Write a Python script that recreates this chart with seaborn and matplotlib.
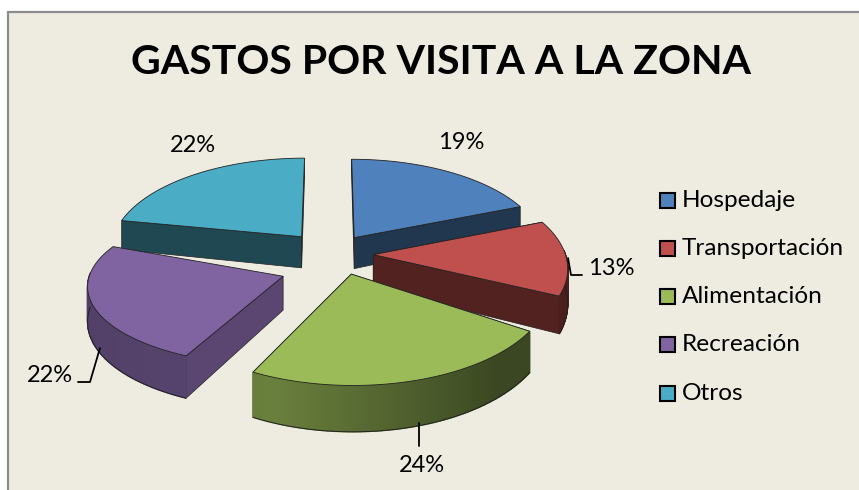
import numpy as np
import matplotlib
matplotlib.use('Agg')
import matplotlib.pyplot as plt
from matplotlib.patches import Polygon, Rectangle
import seaborn as sns

# ==========================================
# data
# ==========================================
categories = ['Hospedaje', 'Transportación', 'Alimentación', 'Recreación', 'Otros']
values = [19, 13, 24, 22, 22]
title = 'GASTOS POR VISITA A LA ZONA'
colors = ['#4F81BD', '#C0504D', '#9BBB59', '#8064A2', '#4BACC6']
BG = '#EEECE1'

# projection of the pie plane, in pixels
CX, CY = 326, 255
W, H, P = 192, 92, 0.125
EXPLODE = 0.22
# excel's 3d view skews the front slices a little
SKEW_START = [0, 0, 8, 4, 0]
SKEW_END = [0, 0, 5, 12, 0]
FLATTEN = [1, 1, 1, 0.85, 1]
NUDGE = [(5, -1), (5, -1), (14, -1), (-3, 14), (2, -3)]

sns.set_style('white')
plt.rcParams['font.family'] = ['Lato', 'DejaVu Sans']


def project(u, v, down=0.0):
    d = 1 + P * v
    x = CX + W * u / d
    y = CY - H * v / d + down * (33 - 11 * v)
    return x, y


def shade(color, f):
    return tuple(c * f for c in matplotlib.colors.to_rgb(color))


def arc_factor(t):
    return np.interp(t, [0, 140, 200, 280, 360], [0.4, 0.38, 0.68, 0.62, 0.4])


fig, ax = plt.subplots(figsize=(8.59, 4.9), dpi=100)
fig.subplots_adjust(0, 0, 1, 1)
ax.set_xlim(0, 859)
ax.set_ylim(490, 0)
ax.axis('off')
sns.despine(ax=ax, left=True, bottom=True)
ax.add_patch(Rectangle((8, 12), 860, 490, fc=BG, ec='#8C8C8C', lw=1.6))

# slice angles, clockwise from the top
edges = np.cumsum([0] + values) / sum(values) * 360

# back slices first
order = [4, 0, 1, 3, 2]
for i in order:
    t0, t1, col = edges[i] + SKEW_START[i], edges[i + 1] + SKEW_END[i], colors[i]
    nx, ny = NUDGE[i]
    m = np.radians((t0 + t1) / 2)
    au, av = EXPLODE * np.sin(m), EXPLODE * np.cos(m)
    ts = np.linspace(t0, t1, 80)
    us = au + np.sin(np.radians(ts))
    vs = av + FLATTEN[i] * np.cos(np.radians(ts))

    # radial walls, the back one of recreacion stays hidden
    for j in [0] if i == 3 else [0, -1]:
        xs0, ys0 = project(au, av)
        xs1, ys1 = project(us[j], vs[j])
        xb0, yb0 = project(au, av, 1)
        xb1, yb1 = project(us[j], vs[j], 1)
        f = 0.7 if i == 3 else 0.42
        pts = np.array([(xs0, ys0), (xs1, ys1), (xb1, yb1), (xb0, yb0)]) + (nx, ny)
        ax.add_patch(Polygon(pts, fc=shade(col, f), ec='#222222', lw=0.5, zorder=2))

    # outer wall, only the part that faces the viewer
    for k in range(len(ts) - 1):
        if np.cos(np.radians(ts[k])) > 0.05:
            continue
        x0, y0 = project(us[k], vs[k])
        x1, y1 = project(us[k + 1], vs[k + 1])
        x2, y2 = project(us[k + 1], vs[k + 1], 1)
        x3, y3 = project(us[k], vs[k], 1)
        c = shade(col, arc_factor((ts[k] + ts[k + 1]) / 2))
        pts = np.array([(x0, y0), (x1, y1), (x2, y2), (x3, y3)]) + (nx, ny)
        ax.add_patch(Polygon(pts, fc=c, ec=c, lw=1.0, zorder=2))
    front = np.cos(np.radians(ts)) <= 0.05
    if front.any():
        bx, by = project(us[front], vs[front], 1)
        ax.plot(bx + nx, by + ny, color='#222222', lw=0.7, zorder=2)

    # top face
    tx, ty = project(us, vs)
    ax0, ay0 = project(au, av)
    pts = np.array([(ax0, ay0)] + list(zip(tx, ty))) + (nx, ny)
    ax.add_patch(Polygon(pts, fc=col, ec='#222222', lw=0.6, zorder=2))

ax.text(441, 63, title, ha='center', va='center', fontsize=29.5, fontweight='bold', color='black')

# percentage labels and leader lines
label_pos = [(461, 142), (611, 268), (422, 465), (50, 375), (193, 145)]
for v, (lx, ly) in zip(values, label_pos):
    ax.text(lx, ly, f'{v}%', ha='center', va='center', fontsize=17, color='black')
ax.plot([568, 571, 582], [258, 275, 275], color='black', lw=1.3)
ax.plot([100, 90, 78], [348, 382, 382], color='black', lw=1.3)
ax.plot([419, 419], [423, 446], color='black', lw=1.3)

# legend
legend_y = [200, 248, 296, 344, 393]
for name, col, y in zip(categories, colors, legend_y):
    ax.add_patch(Rectangle((659.5, y - 7.5), 15, 15, fc=col, ec='black', lw=1.5))
    ax.text(682, y, name, ha='left', va='center', fontsize=17.6, color='black')

plt.savefig('out.png', dpi=100)
plt.close()
